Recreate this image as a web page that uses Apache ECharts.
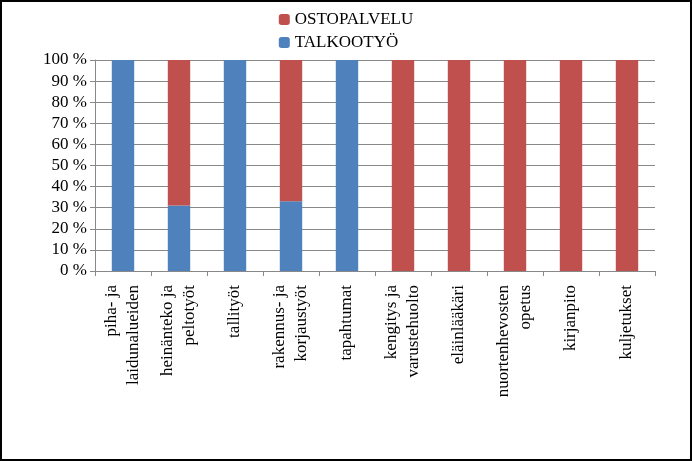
<!DOCTYPE html>
<html><head><meta charset="utf-8">
<script src="https://cdn.jsdelivr.net/npm/echarts@6/dist/echarts.min.js"></script>
<style>html,body{margin:0;padding:0;background:#fff}#c{width:688px;height:457px;border:2px solid #000}</style>
</head><body><div id="c"></div>
<script>
var categories = ['piha- ja\nlaidunalueiden','heinänteko ja\npeltotyöt','tallityöt','rakennus- ja\nkorjaustyöt','tapahtumat','kengitys ja\nvarustehuolto','eläinlääkäri','nuortenhevosten\nopetus','kirjanpito','kuljetukset'];
var talkoo = [100,31,100,33,100,0,0,0,0,0];
var osto = [0,69,0,67,0,100,100,100,100,100];
var yTicks = [0,10,20,30,40,50,60,70,80,90,100];
var ch = echarts.init(document.getElementById('c'));
var f = 'Liberation Serif, DejaVu Serif, serif';
ch.setOption({
  animation:false,
  textStyle:{fontFamily:f},
  legend:{orient:'vertical',top:4,left:'center',itemGap:6,itemWidth:11,itemHeight:11,
    data:['OSTOPALVELU','TALKOOTYÖ'],textStyle:{fontFamily:f,fontSize:17,color:'#000'}},
  grid:{left:93,right:35,top:58,bottom:188,containLabel:false},
  xAxis:{type:'category',data:categories,
    axisLine:{lineStyle:{color:'#888'}},axisTick:{show:true,lineStyle:{color:'#888'}},
    axisLabel:{rotate:90,interval:0,fontFamily:f,fontSize:17,color:'#000',lineHeight:22,margin:14}},
  yAxis:{type:'value',min:0,max:100,interval:10,
    axisLine:{show:true,lineStyle:{color:'#888'}},axisTick:{show:true,lineStyle:{color:'#888'}},
    splitLine:{lineStyle:{color:'#888'}},
    axisLabel:{fontFamily:f,fontSize:17,color:'#000',formatter:function(v){return yTicks.indexOf(v)>=0?v+' %':'';}}},
  series:[
    {name:'TALKOOTYÖ',type:'bar',stack:'s',data:talkoo,barWidth:'40%',itemStyle:{color:'#4F81BD'}},
    {name:'OSTOPALVELU',type:'bar',stack:'s',data:osto,barWidth:'40%',itemStyle:{color:'#C0504D'}}
  ]
});
</script></body></html>
